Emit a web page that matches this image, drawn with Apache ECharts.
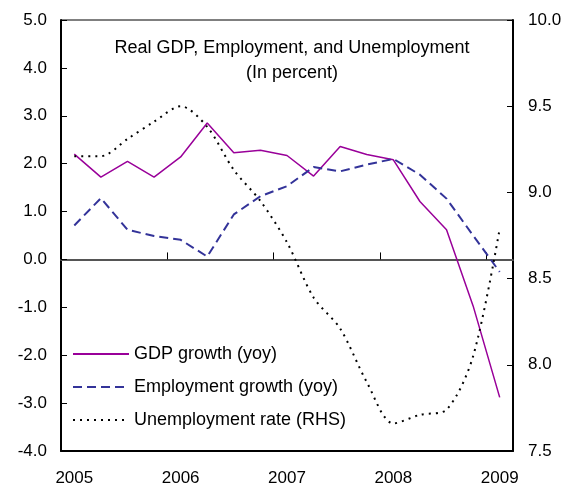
<!DOCTYPE html>
<html lang="en">
<head>
    <meta charset="UTF-8">
    <title>Real GDP, Employment, and Unemployment</title>
    <script src="https://cdn.jsdelivr.net/npm/echarts@6/dist/echarts.min.js"></script>
    <style>
        html, body {
            margin: 0;
            padding: 0;
            background-color: #ffffff;
        }

        #container {
            width: 571px;
            height: 487px;
        }
    </style>
</head>
<body>
<div id="container"></div>
<script>
    // quarterly, 2005Q1 .. 2009Q1
    var quarters = ['2005Q1', '2005Q2', '2005Q3', '2005Q4', '2006Q1', '2006Q2', '2006Q3', '2006Q4',
        '2007Q1', '2007Q2', '2007Q3', '2007Q4', '2008Q1', '2008Q2', '2008Q3', '2008Q4', '2009Q1'];
    var gdpGrowth = [2.2, 1.72, 2.05, 1.72, 2.14, 2.85, 2.23, 2.28, 2.17, 1.74, 2.36, 2.19, 2.08, 1.21, 0.62, -0.97, -2.88];
    var employmentGrowth = [0.71, 1.28, 0.62, 0.49, 0.41, 0.06, 0.94, 1.32, 1.53, 1.93, 1.84, 1.98, 2.1, 1.77, 1.27, 0.5, -0.26];
    var unemploymentRate = [9.21, 9.21, 9.31, 9.41, 9.5, 9.38, 9.13, 8.95, 8.71, 8.39, 8.21, 7.9, 7.66, 7.71, 7.74, 8.05, 8.79];
    var leftTicks = {min: -4, max: 5, interval: 1};
    var rightTicks = {min: 7.5, max: 10, interval: 0.5};

    var fontName = 'Liberation Sans';
    var dom = document.getElementById('container');
    var myChart = echarts.init(dom, null, {renderer: 'canvas'});

    var option = {
        animation: false,
        backgroundColor: '#ffffff',
        textStyle: {fontFamily: fontName, color: '#000'},
        title: {
            text: 'Real GDP, Employment, and Unemployment\n(In percent)',
            left: 287,
            top: 31,
            textAlign: 'center',
            textStyle: {
                fontFamily: fontName,
                fontSize: 18,
                fontWeight: 'normal',
                color: '#000',
                lineHeight: 25
            }
        },
        legend: {
            orient: 'vertical',
            left: 67,
            top: 340,
            itemWidth: 56,
            itemHeight: 14,
            itemGap: 15,
            itemStyle: {opacity: 0},
            textStyle: {fontFamily: fontName, fontSize: 18, color: '#000'},
            data: ['GDP growth (yoy)', 'Employment growth (yoy)', 'Unemployment rate (RHS)']
        },
        grid: {
            left: 61,
            right: 58,
            top: 20,
            bottom: 35,
            show: true,
            borderColor: '#000',
            borderWidth: 1
        },
        xAxis: [
            {
                type: 'category',
                data: quarters,
                position: 'bottom',
                axisLine: {onZero: false, lineStyle: {color: '#000', width: 2}},
                axisTick: {show: false},
                axisLabel: {
                    interval: 3,
                    margin: 19,
                    fontSize: 17,
                    color: '#000',
                    formatter: function (v) { return v.slice(0, 4); }
                },
                splitLine: {show: false}
            },
            {
                // zero line with year ticks
                type: 'category',
                data: quarters,
                position: 'top',
                axisLine: {onZero: true, lineStyle: {color: '#555', width: 2}},
                axisTick: {show: true, interval: 3, length: 7, lineStyle: {color: '#000', width: 1}},
                axisLabel: {show: false},
                splitLine: {show: false}
            }
        ],
        yAxis: [
            {
                type: 'value',
                position: 'left',
                min: leftTicks.min,
                max: leftTicks.max,
                interval: leftTicks.interval,
                axisLine: {show: true, onZero: false, lineStyle: {color: '#000', width: 2}},
                axisTick: {show: true, inside: true, length: 6, lineStyle: {color: '#000'}},
                axisLabel: {
                    margin: 14,
                    fontSize: 17,
                    color: '#000',
                    formatter: function (v) { return v.toFixed(1); }
                },
                splitLine: {show: false}
            },
            {
                type: 'value',
                position: 'right',
                min: rightTicks.min,
                max: rightTicks.max,
                interval: rightTicks.interval,
                axisLine: {show: true, onZero: false, lineStyle: {color: '#000', width: 2}},
                axisTick: {show: true, inside: true, length: 6, lineStyle: {color: '#000'}},
                axisLabel: {
                    margin: 15,
                    fontSize: 17,
                    color: '#000',
                    formatter: function (v) { return v.toFixed(1); }
                },
                splitLine: {show: false}
            }
        ],
        series: [
            {
                name: 'GDP growth (yoy)',
                type: 'line',
                xAxisIndex: 0,
                yAxisIndex: 0,
                data: gdpGrowth,
                symbol: 'none',
                itemStyle: {color: '#990099'},
                lineStyle: {color: '#990099', width: 1.5}
            },
            {
                name: 'Employment growth (yoy)',
                type: 'line',
                xAxisIndex: 0,
                yAxisIndex: 0,
                data: employmentGrowth,
                symbol: 'none',
                itemStyle: {color: '#333399'},
                lineStyle: {color: '#333399', width: 2, type: [9, 5]}
            },
            {
                name: 'Unemployment rate (RHS)',
                type: 'line',
                xAxisIndex: 0,
                yAxisIndex: 1,
                data: unemploymentRate,
                symbol: 'none',
                smooth: 0.3,
                itemStyle: {color: '#000'},
                lineStyle: {color: '#000', width: 2, type: [2, 5]}
            }
        ]
    };

    myChart.setOption(option);
    window.addEventListener('resize', myChart.resize);
</script>
</body>
</html>
